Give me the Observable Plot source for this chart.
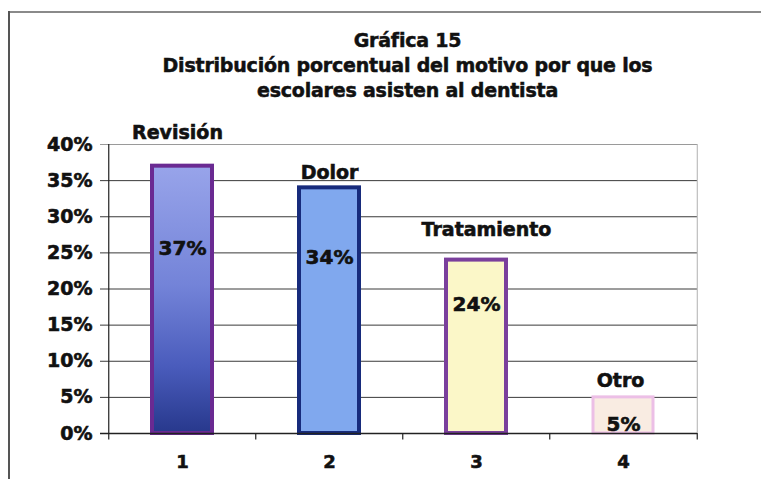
<!DOCTYPE html>
<html>
<head>
<meta charset="utf-8">
<script src="https://cdn.jsdelivr.net/npm/d3@7"></script>
<script src="https://cdn.jsdelivr.net/npm/@observablehq/plot@0.6"></script>
<style>
  html, body { margin: 0; padding: 0; background: #fff; }
  #frame {
    position: relative; width: 761px; height: 479px; overflow: hidden;
    font-family: "DejaVu Sans", sans-serif; color: #111;
  }
  #frame .edge-top { position: absolute; left: 8px; right: 0; top: 11px; height: 0; border-top: 2px solid #8a8a8a; }
  #frame .edge-left { position: absolute; left: 8px; top: 11px; bottom: 0; width: 0; border-left: 2px solid #555; }
  #title {
    position: absolute; left: 27px; width: 761px; top: 28px; margin: 0;
    text-align: center; font-weight: bold; font-size: 19px; line-height: 25px;
    -webkit-text-stroke: 0.5px #111; letter-spacing: -0.2px;
  }
  #chart { position: absolute; left: 0; top: 100px; }
  #chart text { stroke: #111; stroke-width: 0.6px; }
</style>
</head>
<body>
<div id="frame">
  <div class="edge-top"></div>
  <div class="edge-left"></div>
  <h2 id="title">Gráfica 15<br>Distribución porcentual del motivo por que los<br>escolares asisten al dentista</h2>
  <div id="chart"></div>
</div>
<script>
// Motivo de la visita al dentista (porcentaje de escolares)
const categories = ["1", "2", "3", "4"];
const reasons = ["Revisión", "Dolor", "Tratamiento", "Otro"];
const percents = [37, 34, 24, 5];
const yTicks = [0, 5, 10, 15, 20, 25, 30, 35, 40];

// Estilos de cada barra
const barFills = ["url(#revision-grad)", "#80a8ee", "#fbf7c8", "#f9ece2"];
const barStrokes = ["#6a2a92", "#172b7c", "#7a3f9c", "#ecbfe6"];
const barStrokeWidths = [4, 4, 4, 3];
// Ajustes finos de las etiquetas (desplazamiento en píxeles)
const nameDx = [-5, 0, 10, -3];
const nameDy = [-33, -15, -30, -16];
const valueDy = [82, 70, 44, 27];

const rows = categories.map((c, i) => ({cat: c, reason: reasons[i], pct: percents[i]}));

const W = 761, H = 379, ML = 107, MR = 64, MT = 44, MB = 46;
const step = (W - ML - MR) / categories.length;
const pad = 0.565;
const last = categories[categories.length - 1];

const chart = Plot.plot({
  width: W, height: H,
  marginLeft: ML, marginRight: MR, marginTop: MT, marginBottom: MB,
  style: {fontFamily: "DejaVu Sans, sans-serif", fontWeight: "bold", color: "#111", background: "transparent"},
  x: {type: "band", domain: categories, paddingInner: pad, paddingOuter: pad / 2, label: null},
  y: {type: "linear", domain: [0, 40], label: null},
  marks: [
    // líneas de cuadrícula
    Plot.ruleY(yTicks.filter(t => t > 0 && t < 40), {y: d => d, stroke: "#3a3a3a", strokeWidth: 1, insetLeft: -7}),
    Plot.ruleY([40], {stroke: "#9a9a9a", strokeWidth: 1, insetLeft: -7}),
    Plot.ruleX([last], {x: d => d, dx: step / 2, y1: 0, y2: 40, stroke: "#b0b0b0", strokeWidth: 1}),
    // barras
    ...rows.map((r, i) => Plot.barY([r], {
      x: "cat", y: "pct",
      fill: barFills[i], stroke: barStrokes[i], strokeWidth: barStrokeWidths[i],
      insetLeft: 2, insetRight: 2
    })),
    // eje base y marcas entre categorías
    Plot.ruleY([0], {stroke: "#222", strokeWidth: 1.5, insetLeft: -7}),
    Plot.ruleX([categories[0]], {x: d => d, dx: -step / 2, y1: -0.9, y2: 40, stroke: "#222", strokeWidth: 1.2}),
    Plot.ruleX(categories.slice(1), {x: d => d, dx: -step / 2, y1: -0.9, y2: 0, stroke: "#222", strokeWidth: 1.2}),
    Plot.ruleX([last], {x: d => d, dx: step / 2, y1: -0.9, y2: 0, stroke: "#222", strokeWidth: 1.2}),
    // etiquetas de categoría y valor
    ...rows.map((r, i) => Plot.text([r], {
      x: "cat", y: "pct", text: "reason", dx: nameDx[i], dy: nameDy[i],
      fontSize: 19, fontWeight: "bold", fill: "#111"
    })),
    ...rows.map((r, i) => Plot.text([r], {
      x: "cat", y: "pct", text: d => d.pct + "%", dy: valueDy[i],
      fontSize: 20, fontWeight: "bold", fill: "#111"
    })),
    Plot.axisY(yTicks, {tickFormat: d => d + "%", tickSize: 0, tickPadding: 15, fontSize: 19, fontWeight: "bold"}),
    Plot.axisX({tickSize: 0, tickPadding: 22, fontSize: 18, fontWeight: "bold"})
  ]
});

// gradiente vertical de la primera barra
const svgNS = "http://www.w3.org/2000/svg";
const svg = chart.tagName.toLowerCase() === "svg" ? chart : chart.querySelector("svg");
const defs = document.createElementNS(svgNS, "defs");
defs.innerHTML = `<linearGradient id="revision-grad" x1="0" y1="0" x2="0" y2="1">
  <stop offset="0" stop-color="#98a4ea"/>
  <stop offset="0.45" stop-color="#7383d8"/>
  <stop offset="0.75" stop-color="#4a5cbc"/>
  <stop offset="1" stop-color="#27388c"/>
</linearGradient>`;
svg.insertBefore(defs, svg.firstChild);

document.getElementById("chart").appendChild(chart);
</script>
</body>
</html>
